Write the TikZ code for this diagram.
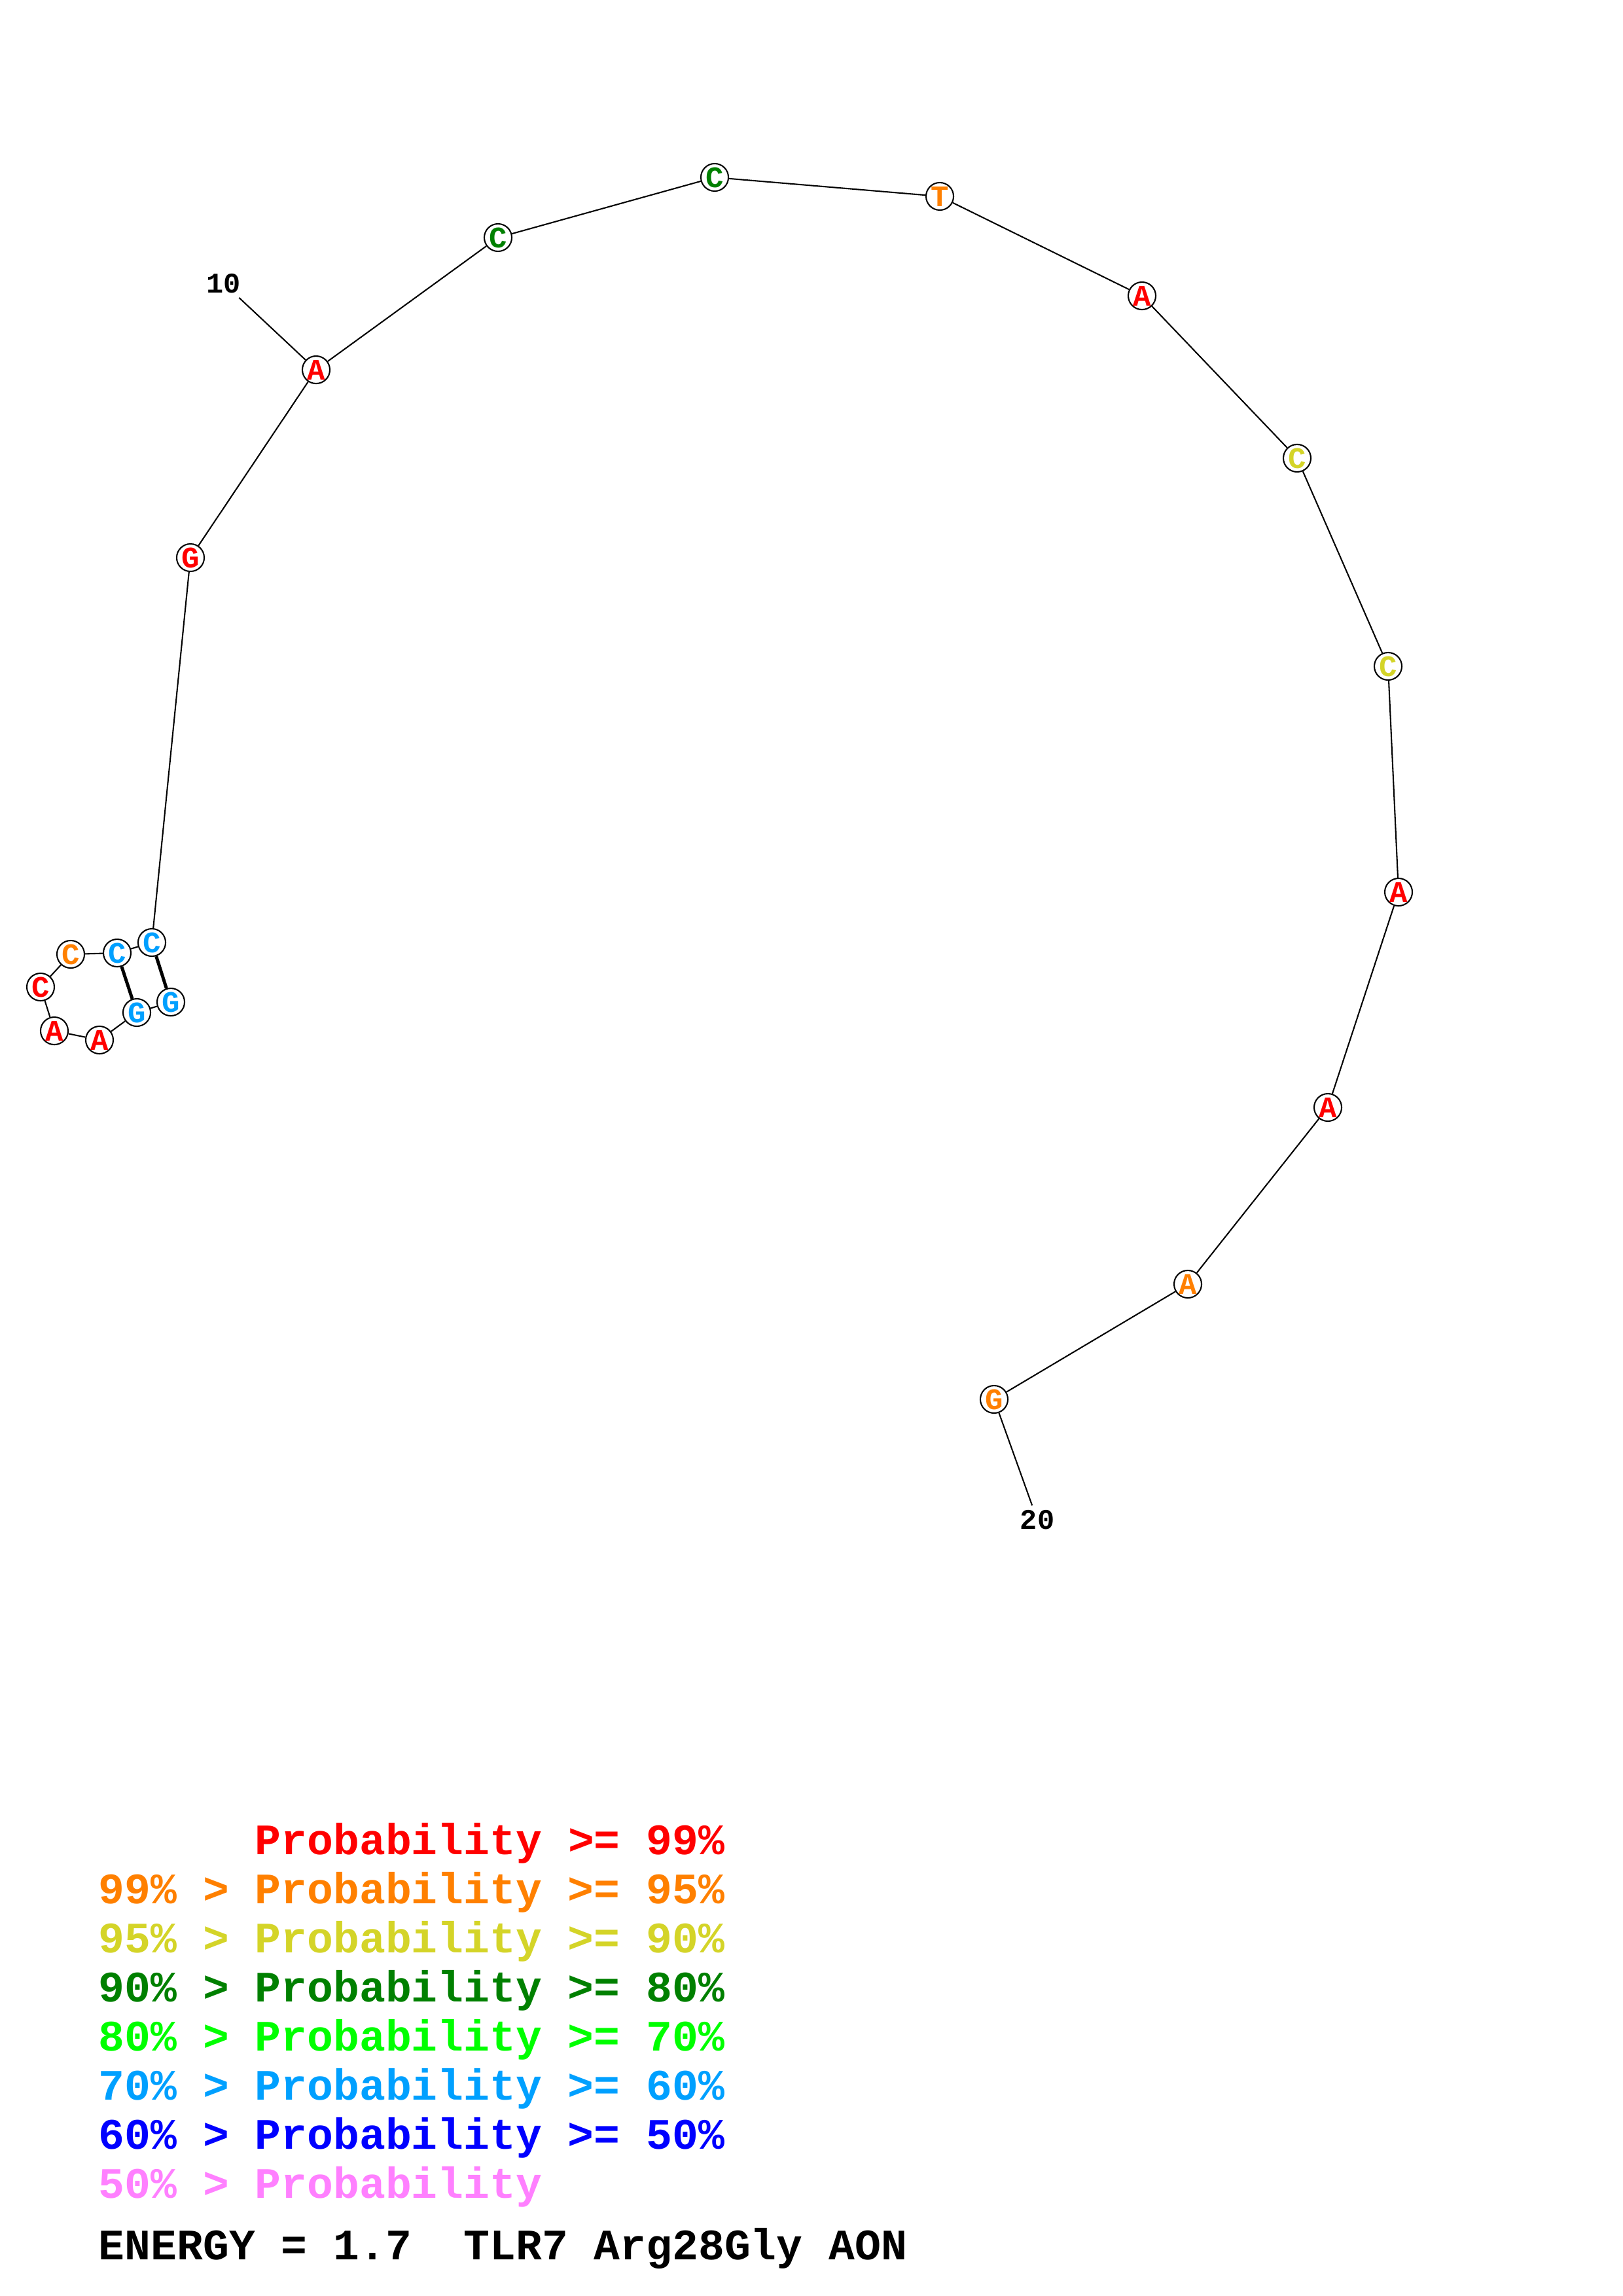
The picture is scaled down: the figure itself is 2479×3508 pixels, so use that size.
\documentclass[tikz,border=0pt]{standalone}
\usepackage{fontspec}
\setmonofont{Liberation Mono}
\usepackage{tikz}

\definecolor{prob99}{RGB}{255,0,0}
\definecolor{prob95}{RGB}{255,128,0}
\definecolor{prob90}{RGB}{212,212,40}
\definecolor{prob80}{RGB}{0,128,0}
\definecolor{prob70}{RGB}{0,255,0}
\definecolor{prob60}{RGB}{0,160,255}
\definecolor{prob50}{RGB}{0,0,255}
\definecolor{problow}{RGB}{255,128,255}

\begin{document}
\begin{tikzpicture}[x=0.0084711cm, y=-0.0084711cm,
        base/.style={circle, draw, line width=0.5pt, fill=white, inner sep=0pt, minimum size=0.356cm, font=\ttfamily\bfseries\fontsize{11}{11}\selectfont},
        backbone/.style={line width=0.5pt},
        pair/.style={line width=1.2pt},
        numlabel/.style={inner sep=1.5pt, font=\ttfamily\bfseries\fontsize{10.5}{10.5}\selectfont},
        legend/.style={anchor=base west, inner sep=0pt, font=\ttfamily\bfseries\fontsize{16}{16}\selectfont}]

        \useasboundingbox (0,0) rectangle (2479,3508);
        \fill[white] (0,0) rectangle (2479,3508);

        % Define nodes
        \node (n1) [base, text=prob60] at (261,1531) {G};
        \node (n2) [base, text=prob60] at (209,1547) {G};
        \node (n3) [base, text=prob99] at (152,1589) {A};
        \node (n4) [base, text=prob99] at (83,1575) {A};
        \node (n5) [base, text=prob99] at (62,1508) {C};
        \node (n6) [base, text=prob95] at (108,1458) {C};
        \node (n7) [base, text=prob60] at (179,1456) {C};
        \node (n8) [base, text=prob60] at (232,1440) {C};
        \node (n9) [base, text=prob99] at (291,852) {G};
        \node (n10) [base, text=prob99] at (483,565) {A};
        \node (n11) [base, text=prob80] at (761,363) {C};
        \node (n12) [base, text=prob80] at (1092,271) {C};
        \node (n13) [base, text=prob95] at (1436,300) {T};
        \node (n14) [base, text=prob99] at (1745,452) {A};
        \node (n15) [base, text=prob90] at (1982,700) {C};
        \node (n16) [base, text=prob90] at (2121,1018) {C};
        \node (n17) [base, text=prob99] at (2137,1363) {A};
        \node (n18) [base, text=prob99] at (2029,1692) {A};
        \node (n19) [base, text=prob95] at (1815,1962) {A};
        \node (n20) [base, text=prob95] at (1519,2138) {G};

        \node (lab10) [numlabel] at (342,433) {10};
        \node (lab20) [numlabel] at (1585,2322) {20};

        % Draw backbone and pairs
        \draw[backbone] (n1) -- (n2) -- (n3) -- (n4) -- (n5) -- (n6) -- (n7) -- (n8) -- (n9) -- (n10);
        \draw[backbone] (n10) -- (n11) -- (n12) -- (n13) -- (n14) -- (n15) -- (n16) -- (n17) -- (n18) -- (n19) -- (n20);
        \draw[pair] (n8) -- (n1);
        \draw[pair] (n7) -- (n2);
        \draw[backbone] (lab10) -- (n10);
        \draw[backbone] (lab20) -- (n20);

        % Legend
        \node (leg99) [legend, text=prob99] at (150,2833) {\phantom{99\%~>~}Probability~>=~99\%};
        \node (leg95) [legend, text=prob95] at (150,2908) {99\%~>~Probability~>=~95\%};
        \node (leg90) [legend, text=prob90] at (150,2983) {95\%~>~Probability~>=~90\%};
        \node (leg80) [legend, text=prob80] at (150,3058) {90\%~>~Probability~>=~80\%};
        \node (leg70) [legend, text=prob70] at (150,3133) {80\%~>~Probability~>=~70\%};
        \node (leg60) [legend, text=prob60] at (150,3208) {70\%~>~Probability~>=~60\%};
        \node (leg50) [legend, text=prob50] at (150,3283) {60\%~>~Probability~>=~50\%};
        \node (leglow) [legend, text=problow] at (150,3358) {50\%~>~Probability};
        \node (energy) [legend] at (150,3452) {ENERGY~=~1.7~~TLR7~Arg28Gly~AON};
\end{tikzpicture}
\end{document}
